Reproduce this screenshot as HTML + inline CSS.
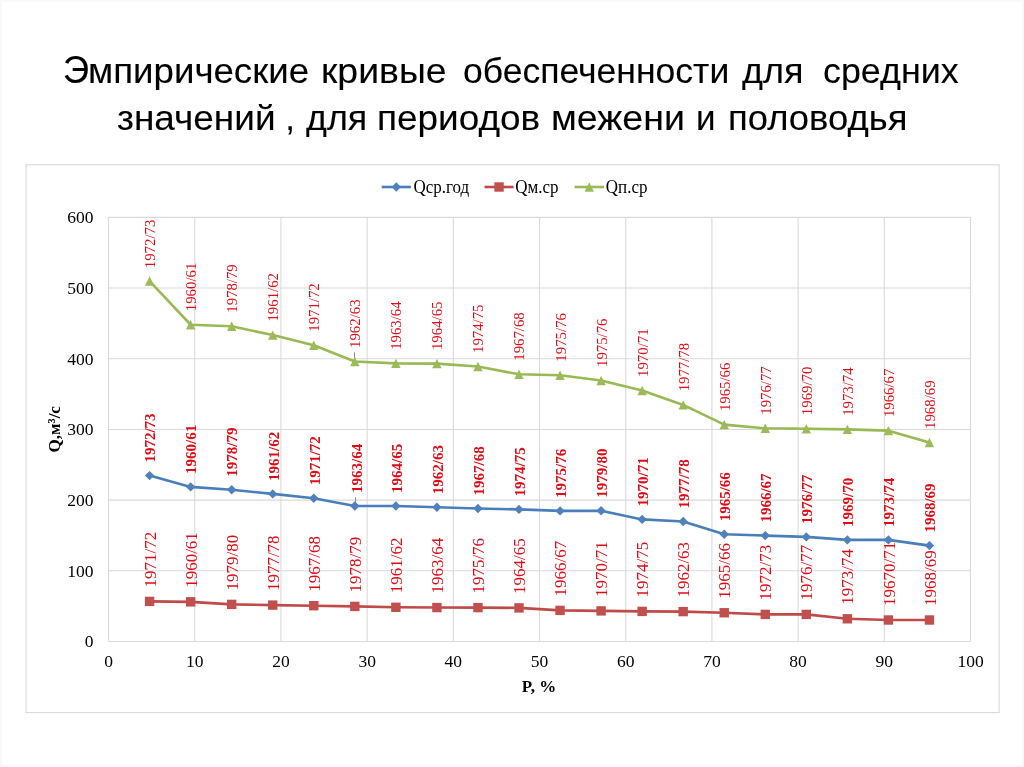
<!DOCTYPE html>
<html lang="ru"><head><meta charset="utf-8">
<title>Эмпирические кривые обеспеченности</title>
<style>
html,body{margin:0;padding:0;background:#fff;}
body{width:1024px;height:767px;overflow:hidden;position:relative;font-family:"Liberation Sans",sans-serif;box-shadow:inset 0 0 0 2px #f9f9f9;}
.title{position:absolute;left:0;top:0;width:1024px;height:150px;margin:0;font-weight:normal;color:#000;white-space:pre;font-family:"Liberation Sans",sans-serif;font-size:35px;line-height:1;will-change:transform;}
.title span{position:absolute;display:block;transform-origin:0 0;white-space:pre;-webkit-text-stroke:0.1px #000;}
svg{position:absolute;left:0;top:0;will-change:transform;}
svg text{font-family:"Liberation Serif",serif;}
.tick{font-size:17.5px;fill:#000;}
.lg{font-size:17px;fill:#000;}
.ax{font-size:17px;fill:#000;font-weight:bold;}
.dl{fill:#e00a14;}
.dg{font-size:14.8px;}
.db{font-size:15px;font-weight:bold;}
.dr{font-size:17px;}
</style></head><body>
<h1 class="title"><span style="left:62.50px;top:50.66px;font-size:38px;transform:scaleX(0.9530)">Э</span><span style="left:88.41px;top:52.6px;transform:scaleX(1.0472)">мпирические</span> <span style="left:320.91px;top:52.6px;transform:scaleX(1.0686)">кривые</span> <span style="left:463.14px;top:52.6px;transform:scaleX(1.0152)">обеспеченности</span> <span style="left:742.40px;top:52.6px;transform:scaleX(1.0260)">для</span> <span style="left:823.28px;top:52.6px;transform:scaleX(1.0246)">средних</span>  <span style="left:117.22px;top:100.4px;transform:scaleX(1.0555)">значений</span> <span style="left:285.37px;top:100.4px;transform:scaleX(1.0000)">,</span> <span style="left:305.60px;top:100.4px;transform:scaleX(1.0225)">для</span> <span style="left:376.69px;top:100.4px;transform:scaleX(1.0553)">периодов</span> <span style="left:551.45px;top:100.4px;transform:scaleX(1.0725)">межени</span> <span style="left:695.81px;top:100.4px;transform:scaleX(0.9992)">и</span> <span style="left:727.92px;top:100.4px;transform:scaleX(1.0401)">половодья</span></h1>
<svg width="1024" height="767" viewBox="0 0 1024 767">
<rect x="26.05" y="164.8" width="973.05" height="547.75" fill="#fff" stroke="#dadada" stroke-width="1.15"/>
<g stroke="#dadada" stroke-width="1.1" fill="none" shape-rendering="auto">
<line x1="108.55" y1="641.45" x2="970.50" y2="641.45"/>
<line x1="108.55" y1="570.78" x2="970.50" y2="570.78"/>
<line x1="108.55" y1="500.10" x2="970.50" y2="500.10"/>
<line x1="108.55" y1="429.43" x2="970.50" y2="429.43"/>
<line x1="108.55" y1="358.75" x2="970.50" y2="358.75"/>
<line x1="108.55" y1="288.07" x2="970.50" y2="288.07"/>
<line x1="108.55" y1="217.40" x2="970.50" y2="217.40"/>
<line x1="108.55" y1="217.40" x2="108.55" y2="641.45"/>
<line x1="194.75" y1="217.40" x2="194.75" y2="641.45"/>
<line x1="280.94" y1="217.40" x2="280.94" y2="641.45"/>
<line x1="367.13" y1="217.40" x2="367.13" y2="641.45"/>
<line x1="453.33" y1="217.40" x2="453.33" y2="641.45"/>
<line x1="539.52" y1="217.40" x2="539.52" y2="641.45"/>
<line x1="625.72" y1="217.40" x2="625.72" y2="641.45"/>
<line x1="711.91" y1="217.40" x2="711.91" y2="641.45"/>
<line x1="798.11" y1="217.40" x2="798.11" y2="641.45"/>
<line x1="884.30" y1="217.40" x2="884.30" y2="641.45"/>
<line x1="970.50" y1="217.40" x2="970.50" y2="641.45"/>
</g>
<g class="tick">
<text transform="translate(93.6 647.40) scale(1 1.0)" text-anchor="end">0</text>
<text transform="translate(93.6 576.73) scale(1 1.0)" text-anchor="end">100</text>
<text transform="translate(93.6 506.05) scale(1 1.0)" text-anchor="end">200</text>
<text transform="translate(93.6 435.38) scale(1 1.0)" text-anchor="end">300</text>
<text transform="translate(93.6 364.70) scale(1 1.0)" text-anchor="end">400</text>
<text transform="translate(93.6 294.02) scale(1 1.0)" text-anchor="end">500</text>
<text transform="translate(93.6 223.35) scale(1 1.0)" text-anchor="end">600</text>
<text transform="translate(108.55 667.4) scale(1 1.0)" text-anchor="middle">0</text>
<text transform="translate(194.75 667.4) scale(1 1.0)" text-anchor="middle">10</text>
<text transform="translate(280.94 667.4) scale(1 1.0)" text-anchor="middle">20</text>
<text transform="translate(367.13 667.4) scale(1 1.0)" text-anchor="middle">30</text>
<text transform="translate(453.33 667.4) scale(1 1.0)" text-anchor="middle">40</text>
<text transform="translate(539.52 667.4) scale(1 1.0)" text-anchor="middle">50</text>
<text transform="translate(625.72 667.4) scale(1 1.0)" text-anchor="middle">60</text>
<text transform="translate(711.91 667.4) scale(1 1.0)" text-anchor="middle">70</text>
<text transform="translate(798.11 667.4) scale(1 1.0)" text-anchor="middle">80</text>
<text transform="translate(884.30 667.4) scale(1 1.0)" text-anchor="middle">90</text>
<text transform="translate(970.50 667.4) scale(1 1.0)" text-anchor="middle">100</text>
</g>
<text class="ax" transform="translate(539 691.5) scale(1 1.0)" text-anchor="middle">P, %</text>
<text class="ax" transform="translate(59.5 429.3) rotate(-90) scale(1.0 1)" text-anchor="middle">Q,м³/с</text>
<line x1="381.7" y1="187" x2="410.9" y2="187" stroke="#4a7ebb" stroke-width="2.6"/>
<path d="M396.30 182.30L401.00 187.00L396.30 191.70L391.60 187.00Z" fill="#4f81bd"/>
<text class="lg" transform="translate(413.5 193.1) scale(1 1.05)">Qср.год</text>
<line x1="484.5" y1="187" x2="513.6" y2="187" stroke="#be4b48" stroke-width="2.6"/>
<rect x="494.35" y="182.30" width="9.40" height="9.40" fill="#c0504d"/>
<text class="lg" transform="translate(515.3 193.1) scale(1 1.05)">Qм.ср</text>
<line x1="574.5" y1="187" x2="604.0" y2="187" stroke="#98b954" stroke-width="2.6"/>
<path d="M589.25 182.30L593.95 191.70L584.55 191.70Z" fill="#9bbb59"/>
<text class="lg" transform="translate(605.8 193.1) scale(1 1.05)">Qп.ср</text>
<polyline points="149.60,281.05 190.64,324.75 231.69,326.30 272.73,335.10 313.78,345.30 354.82,361.50 395.87,363.40 436.91,363.60 477.96,366.55 519.00,374.30 560.05,375.20 601.09,380.55 642.14,390.50 683.18,404.90 724.23,424.65 765.27,428.30 806.32,428.70 847.36,429.40 888.41,430.65 929.45,442.50" fill="none" stroke="#98b954" stroke-width="2.6" stroke-linejoin="round" stroke-linecap="round"/>
<g><path d="M149.60 276.35L154.30 285.75L144.90 285.75Z" fill="#9bbb59"/><path d="M190.64 320.05L195.34 329.45L185.94 329.45Z" fill="#9bbb59"/><path d="M231.69 321.60L236.39 331.00L226.99 331.00Z" fill="#9bbb59"/><path d="M272.73 330.40L277.43 339.80L268.03 339.80Z" fill="#9bbb59"/><path d="M313.78 340.60L318.48 350.00L309.08 350.00Z" fill="#9bbb59"/><path d="M354.82 356.80L359.52 366.20L350.12 366.20Z" fill="#9bbb59"/><path d="M395.87 358.70L400.57 368.10L391.17 368.10Z" fill="#9bbb59"/><path d="M436.91 358.90L441.61 368.30L432.21 368.30Z" fill="#9bbb59"/><path d="M477.96 361.85L482.66 371.25L473.26 371.25Z" fill="#9bbb59"/><path d="M519.00 369.60L523.70 379.00L514.30 379.00Z" fill="#9bbb59"/><path d="M560.05 370.50L564.75 379.90L555.35 379.90Z" fill="#9bbb59"/><path d="M601.09 375.85L605.79 385.25L596.39 385.25Z" fill="#9bbb59"/><path d="M642.14 385.80L646.84 395.20L637.44 395.20Z" fill="#9bbb59"/><path d="M683.18 400.20L687.88 409.60L678.48 409.60Z" fill="#9bbb59"/><path d="M724.23 419.95L728.93 429.35L719.53 429.35Z" fill="#9bbb59"/><path d="M765.27 423.60L769.97 433.00L760.57 433.00Z" fill="#9bbb59"/><path d="M806.32 424.00L811.02 433.40L801.62 433.40Z" fill="#9bbb59"/><path d="M847.36 424.70L852.06 434.10L842.66 434.10Z" fill="#9bbb59"/><path d="M888.41 425.95L893.11 435.35L883.71 435.35Z" fill="#9bbb59"/><path d="M929.45 437.80L934.15 447.20L924.75 447.20Z" fill="#9bbb59"/></g>
<polyline points="149.60,475.60 190.64,486.90 231.69,489.75 272.73,493.90 313.78,498.30 354.82,506.00 395.87,506.00 436.91,507.25 477.96,508.50 519.00,509.40 560.05,510.90 601.09,510.75 642.14,519.40 683.18,521.50 724.23,534.30 765.27,535.60 806.32,536.90 847.36,539.90 888.41,539.90 929.45,545.60" fill="none" stroke="#4a7ebb" stroke-width="2.6" stroke-linejoin="round" stroke-linecap="round"/>
<g><path d="M149.60 470.90L154.30 475.60L149.60 480.30L144.90 475.60Z" fill="#4f81bd"/><path d="M190.64 482.20L195.34 486.90L190.64 491.60L185.94 486.90Z" fill="#4f81bd"/><path d="M231.69 485.05L236.39 489.75L231.69 494.45L226.99 489.75Z" fill="#4f81bd"/><path d="M272.73 489.20L277.43 493.90L272.73 498.60L268.03 493.90Z" fill="#4f81bd"/><path d="M313.78 493.60L318.48 498.30L313.78 503.00L309.08 498.30Z" fill="#4f81bd"/><path d="M354.82 501.30L359.52 506.00L354.82 510.70L350.12 506.00Z" fill="#4f81bd"/><path d="M395.87 501.30L400.57 506.00L395.87 510.70L391.17 506.00Z" fill="#4f81bd"/><path d="M436.91 502.55L441.61 507.25L436.91 511.95L432.21 507.25Z" fill="#4f81bd"/><path d="M477.96 503.80L482.66 508.50L477.96 513.20L473.26 508.50Z" fill="#4f81bd"/><path d="M519.00 504.70L523.70 509.40L519.00 514.10L514.30 509.40Z" fill="#4f81bd"/><path d="M560.05 506.20L564.75 510.90L560.05 515.60L555.35 510.90Z" fill="#4f81bd"/><path d="M601.09 506.05L605.79 510.75L601.09 515.45L596.39 510.75Z" fill="#4f81bd"/><path d="M642.14 514.70L646.84 519.40L642.14 524.10L637.44 519.40Z" fill="#4f81bd"/><path d="M683.18 516.80L687.88 521.50L683.18 526.20L678.48 521.50Z" fill="#4f81bd"/><path d="M724.23 529.60L728.93 534.30L724.23 539.00L719.53 534.30Z" fill="#4f81bd"/><path d="M765.27 530.90L769.97 535.60L765.27 540.30L760.57 535.60Z" fill="#4f81bd"/><path d="M806.32 532.20L811.02 536.90L806.32 541.60L801.62 536.90Z" fill="#4f81bd"/><path d="M847.36 535.20L852.06 539.90L847.36 544.60L842.66 539.90Z" fill="#4f81bd"/><path d="M888.41 535.20L893.11 539.90L888.41 544.60L883.71 539.90Z" fill="#4f81bd"/><path d="M929.45 540.90L934.15 545.60L929.45 550.30L924.75 545.60Z" fill="#4f81bd"/></g>
<polyline points="149.60,601.40 190.64,601.85 231.69,604.40 272.73,605.10 313.78,605.70 354.82,606.40 395.87,607.30 436.91,607.55 477.96,607.60 519.00,607.90 560.05,610.40 601.09,610.90 642.14,611.40 683.18,611.60 724.23,612.75 765.27,614.40 806.32,614.40 847.36,618.80 888.41,620.00 929.45,620.00" fill="none" stroke="#be4b48" stroke-width="2.6" stroke-linejoin="round" stroke-linecap="round"/>
<g><rect x="144.90" y="596.70" width="9.40" height="9.40" fill="#c0504d"/><rect x="185.94" y="597.15" width="9.40" height="9.40" fill="#c0504d"/><rect x="226.99" y="599.70" width="9.40" height="9.40" fill="#c0504d"/><rect x="268.03" y="600.40" width="9.40" height="9.40" fill="#c0504d"/><rect x="309.08" y="601.00" width="9.40" height="9.40" fill="#c0504d"/><rect x="350.12" y="601.70" width="9.40" height="9.40" fill="#c0504d"/><rect x="391.17" y="602.60" width="9.40" height="9.40" fill="#c0504d"/><rect x="432.21" y="602.85" width="9.40" height="9.40" fill="#c0504d"/><rect x="473.26" y="602.90" width="9.40" height="9.40" fill="#c0504d"/><rect x="514.30" y="603.20" width="9.40" height="9.40" fill="#c0504d"/><rect x="555.35" y="605.70" width="9.40" height="9.40" fill="#c0504d"/><rect x="596.39" y="606.20" width="9.40" height="9.40" fill="#c0504d"/><rect x="637.44" y="606.70" width="9.40" height="9.40" fill="#c0504d"/><rect x="678.48" y="606.90" width="9.40" height="9.40" fill="#c0504d"/><rect x="719.53" y="608.05" width="9.40" height="9.40" fill="#c0504d"/><rect x="760.57" y="609.70" width="9.40" height="9.40" fill="#c0504d"/><rect x="801.62" y="609.70" width="9.40" height="9.40" fill="#c0504d"/><rect x="842.66" y="614.10" width="9.40" height="9.40" fill="#c0504d"/><rect x="883.71" y="615.30" width="9.40" height="9.40" fill="#c0504d"/><rect x="924.75" y="615.30" width="9.40" height="9.40" fill="#c0504d"/></g>
<line x1="354.52" y1="352.30" x2="354.52" y2="358.00" stroke="#808080" stroke-width="0.9"/>
<line x1="355.52" y1="497.30" x2="355.52" y2="502.00" stroke="#808080" stroke-width="0.9"/>
<g class="dl dg">
<text transform="translate(155.05 268.20) rotate(-90)">1972/73</text>
<text transform="translate(196.09 311.20) rotate(-90)">1960/61</text>
<text transform="translate(237.14 312.75) rotate(-90)">1978/79</text>
<text transform="translate(278.18 321.55) rotate(-90)">1961/62</text>
<text transform="translate(319.23 331.75) rotate(-90)">1971/72</text>
<text transform="translate(360.27 347.95) rotate(-90)">1962/63</text>
<text transform="translate(401.32 349.85) rotate(-90)">1963/64</text>
<text transform="translate(442.36 350.05) rotate(-90)">1964/65</text>
<text transform="translate(483.41 353.00) rotate(-90)">1974/75</text>
<text transform="translate(524.45 360.75) rotate(-90)">1967/68</text>
<text transform="translate(565.50 361.65) rotate(-90)">1975/76</text>
<text transform="translate(606.54 367.00) rotate(-90)">1975/76</text>
<text transform="translate(647.59 376.95) rotate(-90)">1970/71</text>
<text transform="translate(688.63 391.35) rotate(-90)">1977/78</text>
<text transform="translate(729.68 411.10) rotate(-90)">1965/66</text>
<text transform="translate(770.72 414.75) rotate(-90)">1976/77</text>
<text transform="translate(811.77 415.15) rotate(-90)">1969/70</text>
<text transform="translate(852.81 415.85) rotate(-90)">1973/74</text>
<text transform="translate(893.86 417.10) rotate(-90)">1966/67</text>
<text transform="translate(934.90 428.95) rotate(-90)">1968/69</text>
</g>
<g class="dl db">
<text transform="translate(155.40 462.60) rotate(-90)">1972/73</text>
<text transform="translate(196.44 473.90) rotate(-90)">1960/61</text>
<text transform="translate(237.49 476.75) rotate(-90)">1978/79</text>
<text transform="translate(278.53 480.90) rotate(-90)">1961/62</text>
<text transform="translate(319.58 485.30) rotate(-90)">1971/72</text>
<text transform="translate(361.62 493.00) rotate(-90)">1963/64</text>
<text transform="translate(401.67 493.00) rotate(-90)">1964/65</text>
<text transform="translate(442.71 494.25) rotate(-90)">1962/63</text>
<text transform="translate(483.76 495.50) rotate(-90)">1967/68</text>
<text transform="translate(524.80 496.40) rotate(-90)">1974/75</text>
<text transform="translate(565.85 497.90) rotate(-90)">1975/76</text>
<text transform="translate(606.89 497.75) rotate(-90)">1979/80</text>
<text transform="translate(647.94 506.40) rotate(-90)">1970/71</text>
<text transform="translate(688.98 508.50) rotate(-90)">1977/78</text>
<text transform="translate(730.03 521.30) rotate(-90)">1965/66</text>
<text transform="translate(771.07 522.60) rotate(-90)">1966/67</text>
<text transform="translate(812.12 523.90) rotate(-90)">1976/77</text>
<text transform="translate(853.16 526.90) rotate(-90)">1969/70</text>
<text transform="translate(894.21 526.90) rotate(-90)">1973/74</text>
<text transform="translate(935.25 532.60) rotate(-90)">1968/69</text>
</g>
<g class="dl dr">
<text transform="translate(155.70 587.40) rotate(-90)">1971/72</text>
<text transform="translate(196.74 587.85) rotate(-90)">1960/61</text>
<text transform="translate(237.79 590.40) rotate(-90)">1979/80</text>
<text transform="translate(278.83 591.10) rotate(-90)">1977/78</text>
<text transform="translate(319.88 591.70) rotate(-90)">1967/68</text>
<text transform="translate(360.92 592.40) rotate(-90)">1978/79</text>
<text transform="translate(401.97 593.30) rotate(-90)">1961/62</text>
<text transform="translate(443.01 593.55) rotate(-90)">1963/64</text>
<text transform="translate(484.06 593.60) rotate(-90)">1975/76</text>
<text transform="translate(525.10 593.90) rotate(-90)">1964/65</text>
<text transform="translate(566.15 596.40) rotate(-90)">1966/67</text>
<text transform="translate(607.19 596.90) rotate(-90)">1970/71</text>
<text transform="translate(648.24 597.40) rotate(-90)">1974/75</text>
<text transform="translate(689.28 597.60) rotate(-90)">1962/63</text>
<text transform="translate(730.33 598.75) rotate(-90)">1965/66</text>
<text transform="translate(771.37 600.40) rotate(-90)">1972/73</text>
<text transform="translate(812.42 600.40) rotate(-90)">1976/77</text>
<text transform="translate(853.46 604.80) rotate(-90)">1973/74</text>
<text transform="translate(894.51 606.00) rotate(-90)">19670/71</text>
<text transform="translate(935.55 606.00) rotate(-90)">1968/69</text>
</g>
</svg>
</body></html>
